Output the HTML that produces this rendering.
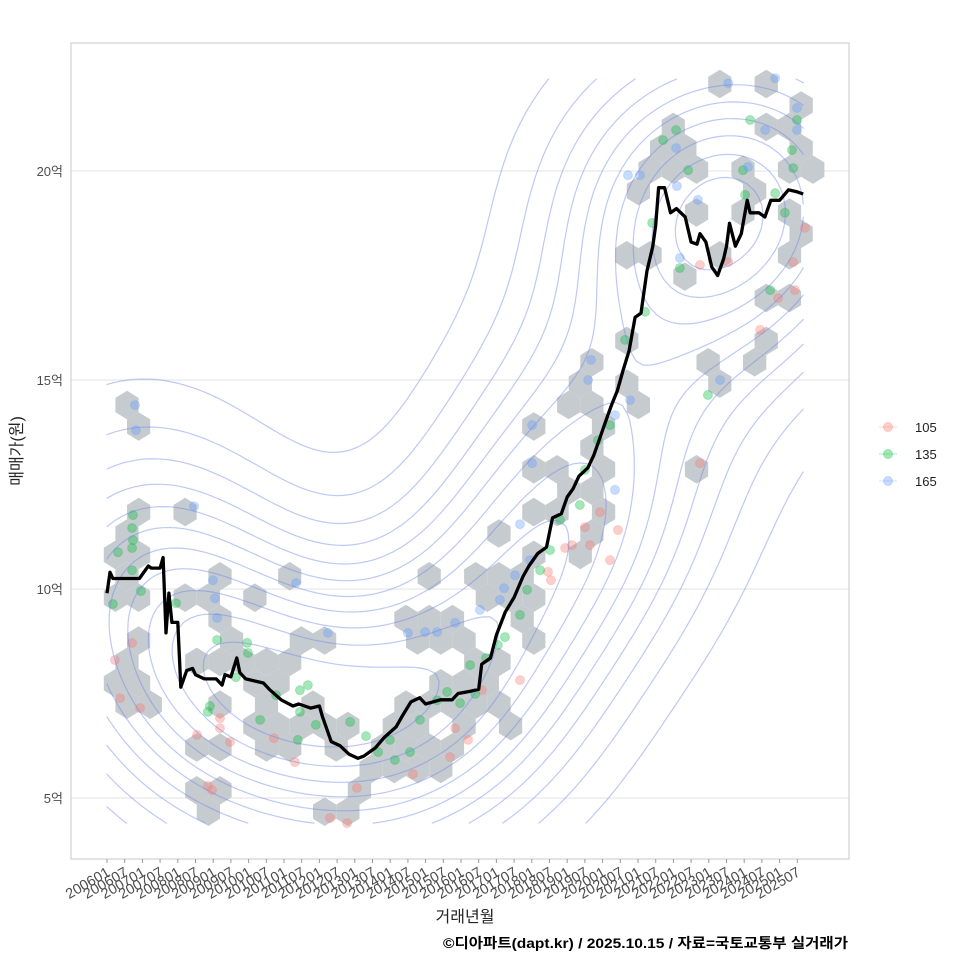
<!DOCTYPE html>
<html><head><meta charset="utf-8">
<style>
html,body{margin:0;padding:0;background:#fff;}
svg{display:block;font-family:"Liberation Sans","Noto Sans CJK KR",sans-serif;}
</style></head>
<body>
<svg id="chart" width="960" height="960" viewBox="0 0 960 960">
<rect x="0" y="0" width="960" height="960" fill="#fff"/>
<g id="grid"></g>
<g id="hexes"></g>
<g id="points"></g>
<g id="contours"></g>
<g id="line"></g>
<rect x="71" y="43" width="778" height="816" fill="none" stroke="#c8c8c8" stroke-width="1"/>
<g id="yaxis"></g>
<g id="xaxis"></g>
<text x="22" y="451" transform="rotate(-90 22 451)" text-anchor="middle" font-size="16" fill="#222">매매가(원)</text>
<text x="465" y="922" text-anchor="middle" font-size="16" fill="#222">거래년월</text>
<text x="848" y="948" text-anchor="end" font-size="14" font-weight="bold" fill="#000" textLength="405" lengthAdjust="spacingAndGlyphs">©디아파트(dapt.kr) / 2025.10.15 / 자료=국토교통부 실거래가</text>
<g id="legend"></g>
</svg>
<script>
// ---- data ----
const lineMonths = [0,1,2,11,14,15,18,19,20,21,22,24,25,27,29,30,33,37,39,40,42,44,45,47,53,55,59,63,65,69,72,73,76,79,82,85,87,91,94,98,100,103,106,108,113,117,119,123,126,127,130,132,135,138,141,143,146,149,151,154,156,158,160,163,165,167,169,171,173,175,177,179,181,183,185,186,187,189,191,193,196,198,200,201,203,205,207,209,210,211,213,215,217,218,221,223,225,228,231,234,236];
const lineValues = [9.9,10.4,10.25,10.25,10.55,10.5,10.5,10.75,8.95,9.9,9.2,9.2,7.65,8.05,8.1,7.95,7.85,7.85,7.7,7.95,7.9,8.35,8.0,7.85,7.75,7.6,7.35,7.2,7.25,7.15,7.2,6.95,6.35,6.25,6.05,5.95,6.0,6.2,6.45,6.7,6.95,7.3,7.4,7.25,7.35,7.35,7.5,7.55,7.6,8.2,8.35,8.9,9.45,9.8,10.3,10.55,10.85,11.0,11.7,11.8,12.2,12.4,12.7,12.9,13.2,13.6,14.0,14.4,14.75,15.25,15.7,16.5,16.6,17.6,18.2,18.7,19.6,19.6,19.0,19.1,18.9,18.3,18.25,18.5,18.3,17.7,17.5,17.9,18.2,18.75,18.2,18.5,19.3,19.0,19.0,18.9,19.3,19.3,19.55,19.5,19.45];

const yTicks = [5,10,15,20];
const yTickLabels = ["5억","10억","15억","20억"];
const xTickLabels = [];
for (let y = 2006; y <= 2025; y++) { xTickLabels.push(y + "01"); xTickLabels.push(y + "07"); }
const legendLabels = ["105","135","165"];
const legendColors = ["#f8766d","#00ba38","#619cff"];

// hexbin cells as [column, row] lattice indices
const hexCells = [[0,0],[0,1],[0,5],[2,5],[0,6],[-1,7],[0,7],[0,8],[4,8],[7,8],[-1,9],[0,9],[2,9],[3,9],[5,9],[4,10],[0,11],[4,11],[7,11],[8,11],[0,12],[3,12],[4,12],[5,12],[6,12],[7,12],[-1,13],[0,13],[5,13],[6,13],[0,14],[1,14],[4,14],[6,14],[8,14],[5,15],[6,15],[7,15],[8,15],[9,15],[3,16],[4,16],[6,16],[7,16],[9,16],[10,17],[3,18],[4,18],[10,18],[3,19],[8,19],[9,19],
[11,16],[12,16],[13,16],[14,16],[11,17],[12,17],[13,17],[11,15],[12,15],[14,15],[16,15],[12,14],[13,14],[14,14],[15,14],[16,14],[13,13],[14,13],[15,13],[15,12],[16,12],[12,11],[13,11],[14,11],[17,11],[12,10],[13,10],[14,10],[17,10],[15,9],[16,9],[17,9],[13,8],[15,8],[16,8],[17,8],[17,7],[19,7],[16,6],[20,6],[17,5],[18,5],[20,5],[19,4],[20,4],[17,3],[18,3],[20,3],[24,3],[20,2],[17,1],[20,1],[19,0],[20,0],[22,0],[19,-1],[21,-1],[25,-1],[20,-2],[25,-2],[27,-2],[21,-3],[27,-3],[27,-5],[28,-5],[24,-6],[21,-7],[22,-7],[25,-7],[28,-7],[29,-8],[24,-9],[26,-9],[28,-9],[22,-10],[27,-10],[22,-11],[23,-11],[24,-11],[26,-11],[28,-11],[29,-11],[23,-12],[24,-12],[29,-12],[23,-13],[27,-13],[28,-13],[29,-14],[25,-15],[27,-15]];
const hexOriginMonth = 6.78, hexStepMonth = 7.88, hexOriginValue = 14.40, hexStepValue = 0.512;

// points (month index since 2006-01, value in 억)
const greenMonths = [3.7,8.8,8.5,8.8,8.5,8.5,2,11.5,23.4,37.3,47.5,47.8,43.7,34.9,34.2,57.3,65.4,68.1,70.8,65.4,51.9,64.7,82.4,87.8,91.9,95.9,97.6,102.7,106.1,111.9,115.3,119.7,124.8,123.1,128.5,132.5,134.9,140,142.4,146.8,150.2,153.6,160.3,162,166.4,170.5,175.6,182.4,188.5,192.9,197,218,233.9,232.6,232.2,215.6,229.8,194.2,203.7,224.8,216.3,226.5,184.8];
const greenValues = [10.88,11.77,11.46,11.17,10.98,10.45,9.64,9.95,9.66,8.78,8.71,8.47,7.89,7.2,7.06,7.46,7.58,7.7,6.75,7.06,6.87,6.39,6.82,6.48,6.1,6.39,5.91,6.1,6.87,7.34,7.54,7.27,7.49,8.18,8.35,8.66,8.85,9.38,9.98,10.45,10.93,11.65,12.01,12.85,13.56,13.92,15.96,16.63,20.74,20.98,20.02,21.22,21.22,20.07,20.5,20.02,19.0,17.68,14.64,17.15,19.43,19.47,18.76];
const redMonths = [2.7,4.4,11.2,8.5,30.5,34.2,35.6,38.3,38.3,41.7,56.6,63.7,75.6,81.4,84.7,103.7,116.3,118,122.4,127.1,140,149.5,150.5,155.3,157.6,162,163.7,170.5,173.2,167.1,201,221.4,227.5,233.2,236.6,232.6,210.6,201];
const redValues = [8.3,7.39,7.15,8.71,6.51,5.29,5.19,6.91,6.67,6.34,6.43,5.86,4.52,4.4,5.24,5.57,5.98,6.67,6.39,7.58,7.82,10.41,10.21,10.98,11.05,11.48,11.05,10.69,11.41,11.84,13.01,16.2,16.96,17.15,18.64,17.82,17.82,17.75];
const blueMonths = [9.5,9.8,29.5,35.9,36.6,37.3,64.1,74.9,102,107.8,111.9,118,126.4,133.2,134.6,138.3,143.4,140,144.1,144.1,164.1,163.1,172.2,177.3,172.2,176.6,180.7,192.9,193.2,210.6,226.5,233.9,223.1,233.9,194.2,207.8,217.3,200.3];
const blueValues = [14.4,13.8,11.98,10.21,9.78,9.31,10.14,8.95,8.95,8.97,8.97,9.19,9.5,9.74,10.02,10.33,10.69,11.55,13.01,13.92,15.48,15.0,14.16,14.52,12.37,19.9,19.9,20.55,19.64,22.1,22.22,21.51,20.98,20.98,17.92,15.0,20.1,19.31];

// ---- scales ----
const NS = "http://www.w3.org/2000/svg";
const xScale = m => 107 + m * 2.95;
const yScale = v => 798 - (v - 5) * 41.8;
const PX0 = 71, PX1 = 849, PY0 = 43, PY1 = 859;
function mk(tag, attrs, parent) {
  const e = document.createElementNS(NS, tag);
  for (const k in attrs) e.setAttribute(k, attrs[k]);
  parent.appendChild(e);
  return e;
}

// grid + y axis
const grid = document.getElementById('grid');
const yaxis = document.getElementById('yaxis');
yTicks.forEach((v, i) => {
  const gl = mk('line', {x1: PX0, x2: PX1, y1: yScale(v), y2: yScale(v), stroke: '#e3e3e3', 'stroke-width': 1}, grid);
  
  
  const t = mk('text', {x: 63, y: yScale(v) + 5, 'text-anchor': 'end', 'font-size': 13, fill: '#4d4d4d'}, yaxis);
  t.textContent = yTickLabels[i];
  
  
});

// x axis
const xaxis = document.getElementById('xaxis');
xTickLabels.forEach((lab, i) => {
  const x = xScale(i * 6);
  const tk = mk('line', {x1: x, x2: x, y1: PY1, y2: PY1 + 4, stroke: '#999', 'stroke-width': 1}, xaxis);
  
  
  const t = mk('text', {x: x + 4, y: PY1 + 16, 'text-anchor': 'end', 'font-size': 14.5, fill: '#4d4d4d', transform: `rotate(-30 ${x + 4} ${PY1 + 16})`}, xaxis);
  t.textContent = lab;
  
  
});

// hexes
const hexG = document.getElementById('hexes');
hexCells.forEach(([i, j]) => {
  const odd = Math.abs(j) % 2 === 1;
  const m = hexOriginMonth + i * hexStepMonth + (odd ? hexStepMonth / 2 : 0);
  const v = hexOriginValue - j * hexStepValue;
  const cx = xScale(m), cy = yScale(v);
  const hw = (xScale(hexStepMonth) - xScale(0)) / 2;
  const R = (yScale(0) - yScale(hexStepValue)) / 1.5;
  const pts = [[0,-R],[hw,-R/2],[hw,R/2],[0,R],[-hw,R/2],[-hw,-R/2]].map(p => (cx+p[0]).toFixed(1)+','+(cy+p[1]).toFixed(1)).join(' ');
  const h = mk('polygon', {points: pts, fill: '#c6cbcf'}, hexG);
  
  
});

// points
const ptG = document.getElementById('points');
[[redMonths, redValues, legendColors[0], '105'], [greenMonths, greenValues, legendColors[1], '135'], [blueMonths, blueValues, legendColors[2], '165']].forEach(([ms, vs, col, nm]) => {
  ms.forEach((m, k) => {
    const c = mk('circle', {cx: xScale(m), cy: yScale(vs[k]), r: 4.5, fill: col, 'fill-opacity': 0.35, stroke: col, 'stroke-opacity': 0.25}, ptG);
    
    
  });
});

// density contours (KDE + marching squares), limited to data range
(function () {
  const allM = greenMonths.concat(redMonths, blueMonths, lineMonths);
  const allV = greenValues.concat(redValues, blueValues, lineValues);
  const hx = 30, hy = 2.1;
  const nx = 100, ny = 100;
  const m0 = 0, m1 = 236, v0 = 4.4, v1 = 22.2;
  const D = [];
  let mx = 0;
  for (let gy = 0; gy <= ny; gy++) {
    const row = [];
    const v = v0 + (v1 - v0) * gy / ny;
    for (let gx = 0; gx <= nx; gx++) {
      const m = m0 + (m1 - m0) * gx / nx;
      let s = 0;
      for (let k = 0; k < allM.length; k++) {
        const a = (m - allM[k]) / hx, b = (v - allV[k]) / hy;
        s += Math.exp(-0.5 * (a * a + b * b));
      }
      row.push(s); if (s > mx) mx = s;
    }
    D.push(row);
  }
  const cg = document.getElementById('contours');
  const nl = 11;
  for (let L = 1; L <= nl; L++) {
    const lev = mx * L / (nl + 1);
    let d = '';
    const P = (gx, gy) => [xScale(m0 + (m1 - m0) * gx / nx), yScale(v0 + (v1 - v0) * gy / ny)];
    for (let gy = 0; gy < ny; gy++) for (let gx = 0; gx < nx; gx++) {
      const a = D[gy][gx], b = D[gy][gx+1], c = D[gy+1][gx+1], e = D[gy+1][gx];
      const idx = (a > lev ? 1 : 0) | (b > lev ? 2 : 0) | (c > lev ? 4 : 0) | (e > lev ? 8 : 0);
      if (idx === 0 || idx === 15) continue;
      const ip = (p1, p2, v1_, v2_) => { const t = (lev - v1_) / (v2_ - v1_); return [p1[0] + (p2[0]-p1[0])*t, p1[1] + (p2[1]-p1[1])*t]; };
      const pa = [gx, gy], pb = [gx+1, gy], pc = [gx+1, gy+1], pe = [gx, gy+1];
      const eT = () => ip(pa, pb, a, b), eR = () => ip(pb, pc, b, c), eB = () => ip(pe, pc, e, c), eL = () => ip(pa, pe, a, e);
      const segs = {1:[[eL,eT]],2:[[eT,eR]],3:[[eL,eR]],4:[[eR,eB]],5:[[eL,eT],[eR,eB]],6:[[eT,eB]],7:[[eL,eB]],8:[[eL,eB]],9:[[eT,eB]],10:[[eT,eR],[eL,eB]],11:[[eR,eB]],12:[[eL,eR]],13:[[eT,eR]],14:[[eL,eT]]}[idx];
      segs.forEach(([f, g]) => {
        const p = f(), q = g();
        const P1 = P(p[0], p[1]), P2 = P(q[0], q[1]);
        d += `M${P1[0].toFixed(1)} ${P1[1].toFixed(1)}L${P2[0].toFixed(1)} ${P2[1].toFixed(1)}`;
      });
    }
    const path = mk('path', {d: d, fill: 'none', stroke: '#6f86e8', 'stroke-opacity': 0.45, 'stroke-width': 1.2, 'stroke-linecap': 'round'}, cg);
    
    
  }
})();

// median line
const lineG = document.getElementById('line');
const ld = lineMonths.map((m, i) => (i ? 'L' : 'M') + xScale(m).toFixed(1) + ' ' + yScale(lineValues[i]).toFixed(1)).join('');
const lp = mk('path', {d: ld, fill: 'none', stroke: '#000', 'stroke-width': 3.3, 'stroke-linejoin': 'round'}, lineG);



// legend
const lg = document.getElementById('legend');
legendLabels.forEach((lab, i) => {
  const y = 427 + i * 27;
  const ln = mk('line', {x1: 879, x2: 897, y1: y, y2: y, stroke: legendColors[i], 'stroke-opacity': 0.3, 'stroke-width': 1}, lg);
  
  
  const c = mk('circle', {cx: 888, cy: y, r: 4.5, fill: legendColors[i], 'fill-opacity': 0.35, stroke: legendColors[i], 'stroke-opacity': 0.3}, lg);
  
  
  const t = mk('text', {x: 915, y: y + 5, 'font-size': 13, fill: '#222'}, lg);
  t.textContent = lab;
  
  
});
</script>
</body></html>
